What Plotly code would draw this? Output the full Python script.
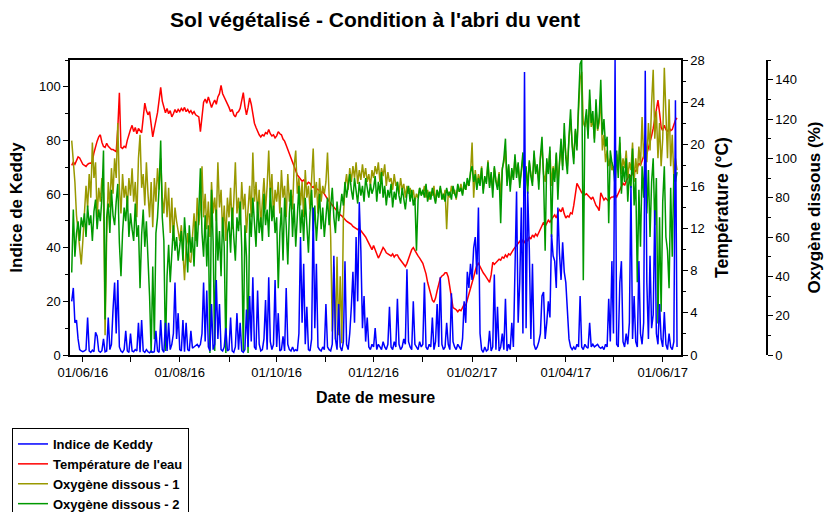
import pandas as pd
import plotly.graph_objects as go

# ---------------- data (daily readings starting 25/05/2016) ----------------
start_date = "2016-05-25"

keddy = (
    [20, 25, 12, 13, 6, 2, 1.5]  # May
    + [1.2, 1.5, 2, 14, 1.5, 1, 1.8, 1.2, 8.5, 7, 1.5, 1, 1.6, 6, 1.2, 1.5, 14, 2, 4, 17,
       27, 8, 28, 3, 1.5, 1, 2, 9, 1.5, 1]  # Jun
    + [8, 1.5, 1.2, 2, 1.5, 12, 1, 13, 1.5, 1, 2, 1.2, 0.8, 1.5, 1, 1.2, 9, 1.5, 1, 13,
       2, 1, 12, 1.5, 12, 2, 4, 8, 27, 6, 15.6]  # Jul
    + [2, 1.5, 13, 1.2, 12, 2, 1.5, 9, 2.5, 3, 3.5, 4, 3, 4, 8, 27, 5, 24, 3, 1.5,
       19, 2, 4, 28, 6, 19, 2, 1.5, 3, 10, 1.5]  # Aug
    + [2, 14, 1.5, 1, 3, 15.6, 2, 12, 1.5, 1, 2, 17, 3, 22, 5, 29, 3, 2, 24, 4,
       1.5, 2, 6, 20.5, 2, 29, 5, 2, 4, 28]  # Sep
    + [3, 15.6, 1.5, 2, 7, 1.5, 25, 4, 2, 1.5, 3, 1.5, 2, 1.5, 8, 44, 12, 34, 4, 18,
       2, 1.5, 6, 55, 10, 34, 3, 2, 1.5, 3, 2]  # Oct
    + [19, 3, 2, 1.5, 4, 37, 6, 2, 19, 3, 1.5, 5, 35, 4, 2, 8, 18, 31, 12, 44,
       20, 57, 39, 10, 22, 5, 14, 3, 2, 4]  # Nov
    + [3, 10, 2, 4, 3, 2, 5, 3, 2, 4, 18, 3, 2, 5, 3, 21, 4, 2, 3, 6,
       4, 32, 5, 3, 2, 20, 4, 3, 2, 5, 3]  # Dec
    + [4, 27, 3, 2, 4, 3, 14, 2, 5, 19, 3, 29, 4, 2, 3, 12, 4, 2, 23, 5,
       3, 2, 4, 3, 2, 6, 20, 12, 31, 25, 34]  # Jan
    + [28, 40, 44, 30, 55, 8, 2, 1, 3, 1.5, 2, 9, 1.5, 3, 30, 2, 18, 1.5, 3, 8,
       2, 21, 1.5, 4, 2, 12, 3, 38]  # Feb
    + [61, 12, 27, 55, 8, 105.5, 10, 61, 40, 6, 34, 4, 2, 3, 5, 8, 22, 23.5, 6, 12,
       20, 14, 45, 37, 35, 25, 55, 38, 28, 42, 31]  # Mar
    + [27, 14, 6, 3, 2, 3, 2, 4, 3, 22, 3, 2, 4, 3, 2.5, 12, 3, 4, 3, 3.5,
       4, 3, 2.5, 3, 2, 4, 3, 21, 5, 35]  # Apr
    + [8, 110, 4, 3, 27, 35, 5, 3, 8, 4, 12, 63, 6, 22, 5, 3, 35, 8, 4, 12,
       106, 27, 6, 37, 10, 15, 54, 8, 4, 19, 6]  # May
    + [3, 16, 4, 2, 8, 3, 2, 5, 95, 3]  # Jun
)

temperature = (
    [18.0, 18.3, 18.1, 18.5, 18.8, 18.7, 18.4]
    + [18.1, 18.0, 17.9, 18.1, 18.2, 18.2, 18.4, 19.2, 19.9, 20.3, 20.7, 20.9, 20.2, 19.8, 19.7,
       20.1, 19.8, 19.6, 19.5, 19.5, 19.4, 19.3, 21.5, 24.9, 19.7, 19.6, 19.8, 19.7, 20.4, 21.0]
    + [21.4, 21.8, 21.2, 21.6, 21.0, 21.5, 21.3, 21.1, 22.5, 23.9, 23.2, 22.8, 23.1, 21.8, 20.7,
       21.5, 22.3, 23.0, 24.2, 25.4, 24.1, 23.5, 23.0, 23.4, 22.9, 23.2, 22.6, 22.9, 23.3, 23.0, 23.3]
    + [23.1, 23.4, 23.2, 23.5, 23.1, 23.3, 23.0, 23.2, 22.9, 23.1, 22.8, 22.7, 22.6, 21.2, 22.8,
       24.0, 24.3, 23.9, 24.5, 23.9, 23.5, 23.9, 24.2, 23.8, 24.5, 24.8, 25.6, 24.8, 24.5, 24.2, 23.8]
    + [23.5, 23.1, 23.3, 22.8, 22.6, 23.0, 23.1, 23.4, 24.2, 24.9, 23.6, 22.8, 23.5, 24.4, 23.8,
       22.9, 22.0, 21.6, 21.2, 20.9, 20.7, 20.9, 20.8, 21.1, 21.0, 21.4, 21.0, 20.8, 20.9, 20.6]
    + [20.8, 21.2, 21.0, 20.9, 20.5, 20.3, 19.9, 19.5, 19.0, 18.6, 18.2, 17.8, 17.4, 17.1, 16.9,
       16.7, 16.5, 16.6, 16.4, 16.2, 16.4, 16.3, 16.0, 15.9, 16.1, 15.8, 15.7, 15.6, 15.4, 15.5, 15.3]
    + [15.0, 14.8, 14.6, 14.4, 14.2, 14.0, 13.8, 13.6, 13.5, 13.3, 13.2, 13.0, 12.9, 12.7, 12.6,
       12.5, 12.4, 12.2, 12.1, 12.0, 11.9, 12.0, 11.8, 11.7, 11.5, 11.2, 10.9, 10.6, 10.3, 10.0]
    + [10.4, 10.0, 9.6, 9.2, 9.5, 9.9, 10.2, 10.0, 9.7, 9.6, 9.5, 9.4, 9.6, 9.3, 9.5,
       9.5, 9.2, 9.0, 8.8, 8.6, 8.4, 8.7, 9.2, 9.7, 10.0, 10.2, 9.9, 9.6, 9.4, 9.2, 9.0]
    + [8.7, 8.2, 7.7, 6.9, 6.3, 5.7, 5.2, 5.0, 5.4, 6.1, 6.8, 7.3, 7.5, 7.6, 7.8,
       7.8, 7.4, 6.4, 5.2, 4.5, 4.4, 4.3, 4.1, 4.3, 4.2, 4.5, 4.8, 4.7, 5.2, 5.8, 6.3]
    + [6.8, 7.4, 8.0, 8.5, 8.7, 8.4, 8.0, 7.8, 7.6, 7.4, 7.2, 6.9, 7.6, 8.8, 8.6,
       8.8, 8.9, 9.1, 9.0, 9.3, 9.2, 9.5, 9.3, 9.6, 9.5, 9.8, 10.0, 10.2]
    + [10.4, 10.6, 10.8, 10.6, 10.9, 10.7, 11.0, 10.8, 11.2, 11.0, 11.4, 11.2, 11.5, 11.3, 11.6,
       11.9, 12.3, 12.6, 12.2, 12.5, 12.8, 12.6, 12.9, 13.1, 13.3, 13.0, 13.5, 13.8, 13.6, 14.0, 13.4]
    + [13.0, 13.2, 13.1, 13.5, 13.4, 14.2, 15.4, 16.3, 16.0, 15.6, 15.4, 15.5, 15.2, 15.3, 15.1,
       15.0, 14.8, 15.0, 14.6, 14.2, 14.0, 13.7, 15.4, 15.0, 14.7, 14.9, 14.7, 14.6, 14.9, 15.0]
    + [15.0, 15.2, 15.0, 15.4, 15.8, 16.0, 16.3, 16.1, 16.5, 16.8, 17.1, 16.9, 17.3, 17.6, 17.4,
       17.8, 18.2, 18.0, 18.5, 18.9, 19.3, 19.1, 19.6, 20.2, 20.8, 21.5, 22.3, 23.2, 24.2, 23.0, 21.6]
    + [21.3, 21.8, 21.4, 21.2, 21.6, 21.3, 21.4, 21.9, 22.3, 22.5]
)

oxygen_1 = (
    [109, 98, 88, 71, 62, 55, 46]
    + [58, 72, 86, 75, 92, 80, 108, 90, 98, 70, 85, 78, 90, 82, 10, 60, 88, 75, 95, 82,
       100, 90, 118, 85, 72, 92, 80, 86, 75, 90]
    + [81, 95, 78, 88, 70, 100, 112, 85, 92, 76, 98, 82, 70, 88, 65, 90, 78, 95, 84, 100,
       80, 72, 88, 70, 85, 62, 80, 58, 75, 68, 62]
    + [58, 66, 50, 38, 55, 62, 48, 47, 60, 72, 58, 80, 66, 75, 96, 70, 82, 64, 78, 60,
       88, 72, 80, 68, 98, 75, 84, 62, 76, 58, 80]
    + [70, 85, 64, 78, 98, 72, 80, 66, 88, 74, 82, 62, 76, 86, 70, 103, 78, 88, 72, 84,
       66, 80, 90, 74, 86, 104, 80, 92, 70, 84]
    + [78, 88, 72, 94, 80, 86, 70, 92, 78, 84, 74, 96, 104, 82, 90, 76, 88, 70, 94, 80,
       86, 74, 92, 105, 80, 88, 72, 90, 78, 86, 82]
    + [88, 103, 80, 60, 12, 45, 8, 50, 10, 40, 6, 70, 86, 92, 84, 95, 88, 96, 90, 98,
       87, 94, 89, 97, 90, 95, 88, 92, 86, 94]
    + [90, 96, 92, 98, 88, 95, 91, 97, 86, 93, 88, 90, 84, 92, 86, 88, 82, 90, 84, 87,
       80, 86, 82, 85, 80, 84, 78, 82, 80, 85, 82]
    + [82, 86, 80, 84, 79, 83, 81, 86, 78, 84, 80, 85, 82, 79, 84, 64, 83, 80, 86, 82,
       84, 79, 85, 83, 87, 82, 86, 84, 88, 86, 92]
    + [108, 80, 94, 86, 92, 88, 96, 84, 90, 88, 99, 86, 92, 84, 95, 89, 86, 93, 80, 95,
       98, 104, 88, 96, 86, 94, 90, 100]
    + [92, 97, 88, 93, 100, 90, 95, 86, 98, 92, 88, 102, 93, 96, 88, 100, 106, 92, 88, 98,
       94, 104, 86, 96, 90, 102, 88, 97, 106, 96, 112]
    + [102, 96, 110, 120, 108, 100, 114, 106, 124, 140, 144, 118, 116, 122, 112, 130, 116, 120, 110, 126,
       114, 118, 132, 104, 112, 98, 104, 96, 100, 94]
    + [96, 90, 102, 94, 108, 92, 100, 95, 104, 90, 98, 94, 108, 88, 100, 92, 106, 96, 121, 100,
       112, 98, 118, 104, 128, 145, 110, 124, 100, 118, 96]
    + [110, 146, 120, 100, 130, 96, 112, 90, 100, 94]
)

oxygen_2 = (
    [42, 74, 50, 62, 68, 58, 70]
    + [65, 72, 60, 76, 66, 71, 58, 73, 79, 64, 74, 68, 80, 104, 18, 70, 77, 62, 84, 71,
       66, 78, 87, 57, 40, 62, 75, 68, 81, 60]
    + [72, 64, 58, 77, 60, 66, 34, 61, 74, 55, 68, 49, 30, 1, 45, 8, 62, 70, 85, 109,
       70, 58, 2, 40, 56, 37, 53, 66, 53, 60, 48]
    + [55, 63, 48, 70, 58, 42, 66, 52, 60, 45, 68, 55, 73, 95, 62, 50, 71, 45, 66, 1,
       84, 58, 2, 74, 48, 63, 40, 70, 55, 1, 62]
    + [68, 52, 75, 60, 48, 70, 63, 78, 55, 2, 66, 50, 1, 72, 60, 80, 65, 55, 78, 62,
       70, 58, 82, 66, 74, 60, 85, 68, 76, 62]
    + [70, 34, 62, 75, 48, 80, 66, 46, 72, 84, 60, 77, 55, 68, 86, 62, 74, 58, 80, 66,
       52, 72, 84, 63, 76, 58, 70, 82, 64, 75, 60]
    + [72, 80, 66, 76, 85, 70, 62, 78, 68, 74, 82, 76, 88, 80, 86, 92, 84, 79, 90, 83,
       77, 88, 81, 86, 78, 90, 84, 80, 87, 82]
    + [85, 91, 78, 88, 82, 93, 80, 86, 76, 84, 80, 87, 75, 83, 79, 88, 81, 77, 85, 80,
       74, 82, 86, 78, 84, 76, 80, 53, 79, 85, 81]
    + [84, 80, 87, 78, 83, 79, 85, 81, 77, 84, 80, 86, 79, 82, 78, 85, 81, 83, 79, 86,
       82, 80, 87, 83, 85, 81, 88, 84, 90, 86, 93]
    + [96, 88, 92, 84, 90, 86, 95, 82, 91, 87, 98, 85, 93, 80, 96, 88, 84, 92, 67, 94,
       100, 110, 86, 97, 83, 95, 89, 102]
    + [90, 98, 85, 94, 103, 88, 96, 82, 99, 91, 86, 104, 92, 97, 84, 101, 111, 90, 53, 100,
       92, 106, 60, 95, 88, 103, 79, 98, 110, 94, 118]
    + [100, 92, 111, 125, 106, 97, 115, 104, 128, 148, 150, 38, 118, 125, 110, 135, 118, 124, 108, 130,
       115, 121, 140, 112, 120, 106, 111, 67, 104, 98]
    + [95, 86, 104, 90, 111, 82, 96, 88, 100, 78, 92, 85, 105, 76, 90, 37, 84, 55, 96, 80,
       108, 72, 94, 60, 88, 100, 66, 90, 16, 70, 22]
    + [78, 96, 60, 53, 34, 85, 50, 92, 88, 93]
)

month_ticks = ["2016-06-01", "2016-07-01", "2016-08-01", "2016-09-01", "2016-10-01",
               "2016-11-01", "2016-12-01", "2017-01-01", "2017-02-01", "2017-03-01",
               "2017-04-01", "2017-05-01", "2017-06-01"]
month_labels = ["01/06/16", "", "01/08/16", "", "01/10/16", "", "01/12/16", "",
                "01/02/17", "", "01/04/17", "", "01/06/17"]

keddy_ticks = [0, 20, 40, 60, 80, 100]
temp_ticks = [0, 4, 8, 12, 16, 20, 24, 28]
oxy_ticks = [0, 20, 40, 60, 80, 100, 120, 140]


def dates_for(series):
    return pd.date_range(start_date, periods=len(series), freq="D")


FONT = "Liberation Sans, Arial, sans-serif"

fig = go.Figure()
fig.add_trace(go.Scatter(x=dates_for(temperature), y=temperature, yaxis="y",
                         name="Température de l'eau", mode="lines",
                         line=dict(color="#FF0000", width=1.5), legendrank=2))
fig.add_trace(go.Scatter(x=dates_for(oxygen_1), y=oxygen_1, yaxis="y2",
                         name="Oxygène dissous - 1", mode="lines",
                         line=dict(color="#999900", width=1.5), legendrank=3))
fig.add_trace(go.Scatter(x=dates_for(oxygen_2), y=oxygen_2, yaxis="y2",
                         name="Oxygène dissous - 2", mode="lines",
                         line=dict(color="#009900", width=1.5), legendrank=4))
fig.add_trace(go.Scatter(x=dates_for(keddy), y=keddy, yaxis="y3",
                         name="Indice de Keddy", mode="lines",
                         line=dict(color="#0000FF", width=1.5), legendrank=1))

axis_common = dict(showgrid=False, zeroline=False, showline=True, linecolor="black",
                   linewidth=1.5, ticks="outside", ticklen=5, tickwidth=1, tickcolor="black",
                   tickfont=dict(family=FONT, size=13, color="black"))

fig.update_layout(
    width=832, height=512,
    paper_bgcolor="white", plot_bgcolor="white",
    margin=dict(l=70, r=40, t=60, b=157, autoexpand=False),
    title=dict(text="Sol végétalisé - Condition à l'abri du vent",
               font=dict(family=FONT, size=21, color="black", weight="bold"),
               xref="container", yref="container", x=375 / 832, y=1 - 20 / 512,
               xanchor="center", yanchor="middle"),
    xaxis=dict(domain=[0, 611 / 722], type="date",
               range=["2016-05-23 22:00", "2017-06-12 12:00"],
               tickmode="array", tickvals=month_ticks, ticktext=month_labels,
               mirror=True,
               title=dict(text="Date de mesure", standoff=12,
                          font=dict(family=FONT, size=16, color="black", weight="bold")),
               **axis_common),
    yaxis=dict(range=[0, 28], side="right", anchor="x",
               tickmode="array", tickvals=temp_ticks,
               minor=dict(dtick=2, ticks="outside", ticklen=3, tickcolor="black"),
               title=dict(text="Température (°C)", standoff=12,
                          font=dict(family=FONT, size=17.5, color="black", weight="bold")),
               **axis_common),
    yaxis2=dict(range=[0, 150], side="right", overlaying="y", anchor="free",
                position=697 / 722,
                tickmode="array", tickvals=oxy_ticks,
                minor=dict(dtick=10, ticks="outside", ticklen=3, tickcolor="black"),
                title=dict(text="Oxygène dissous (%)", standoff=11,
                           font=dict(family=FONT, size=17, color="black", weight="bold")),
                **axis_common),
    yaxis3=dict(range=[0, 110], side="left", overlaying="y", anchor="x",
                tickmode="array", tickvals=keddy_ticks,
                minor=dict(dtick=10, ticks="outside", ticklen=3, tickcolor="black"),
                title=dict(text="Indice de Keddy", standoff=12,
                           font=dict(family=FONT, size=17, color="black", weight="bold")),
                **axis_common),
    showlegend=True,
    legend=dict(x=(12 - 70) / 722, y=(355 - 428) / 295, xanchor="left", yanchor="top",
                xref="paper", yref="paper",
                bordercolor="black", borderwidth=1, bgcolor="white",
                font=dict(family=FONT, size=13, color="black", weight="bold"),
                itemwidth=30, traceorder="normal", tracegroupgap=0),
    hovermode=False,
)

fig.write_html("out.html", config={"displayModeBar": False},
               post_script="document.body.style.margin='0px';document.body.style.padding='0px';")
